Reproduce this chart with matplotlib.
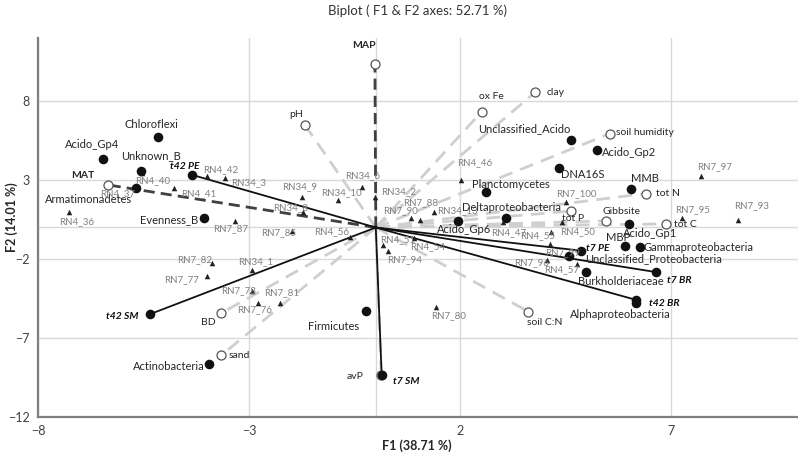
import matplotlib
matplotlib.use('Agg')
import matplotlib.pyplot as plt

plt.rcParams['font.family'] = ['Lato', 'DejaVu Sans']

# ---------------- data ----------------
species = ['Chloroflexi', 'Acido_Gp4', 'Unknown_B', 'Armatimonadetes', 'Evenness_B',
           'Unclassified_Acido', 'Acido_Gp2', 'DNA16S', 'MMB', 'Planctomycetes',
           'Deltaproteobacteria', 'Acido_Gp6', 'Acido_Gp1', 'MBP', 'Gammaproteobacteria',
           'Unclassified_Proteobacteria', 'Burkholderiaceae', 'Alphaproteobacteria',
           'Firmicutes', 'Actinobacteria']
species_x = [-5.16, -6.47, -5.56, -5.67, -4.06, 4.63, 5.24, 4.34, 6.05, 2.61,
             3.08, 1.95, 6.00, 5.91, 6.25, 4.58, 4.99, 6.16, -0.23, -3.96]
species_y = [5.70, 4.33, 3.59, 2.49, 0.63, 5.55, 4.90, 3.78, 2.45, 2.24,
             0.59, 0.42, 0.22, -1.20, -1.24, -1.79, -2.82, -4.78, -5.27, -8.63]

treatments = ['t42 PE', 't42 SM', 't7 SM', 't7 PE', 't7 BR', 't42 BR']
treat_x = [-4.36, -5.34, 0.14, 4.87, 6.63, 6.16]
treat_y = [3.34, -5.48, -9.37, -1.47, -2.82, -4.58]

env_vars = ['MAP', 'MAT', 'pH', 'ox Fe', 'clay', 'soil humidity', 'tot N', 'tot P',
            'Gibbsite', 'tot C', 'soil C:N', 'BD', 'sand', 'avP']
env_x = [-0.02, -6.35, -1.68, 2.51, 3.78, 5.55, 6.39, 4.63, 5.46, 6.88, 3.61, -3.66, -3.66, 0.13]
env_y = [10.36, 2.70, 6.50, 7.34, 8.57, 5.95, 2.15, 1.04, 0.42, 0.23, -5.32, -5.42, -8.10, -9.33]
env_strong = ['MAP', 'MAT']

samples = ['RN4_36', 'RN4_37', 'RN4_40', 'RN4_41', 'RN4_42', 'RN34_3', 'RN7_87', 'RN34_9',
           'RN34_10', 'RN34_6', 'RN34_2', 'RN34_8', 'RN7_85', 'RN4_56', 'RN7_90', 'RN7_88',
           'RN34_13', 'RN4_46', 'RN4_47', 'RN4_51', 'RN7_94', 'RN4_54', 'RN4_55', 'RN4_50',
           'RN7_100', 'RN7_99', 'RN7_96', 'RN4_57', 'RN7_97', 'RN7_95', 'RN7_93', 'RN34_1',
           'RN7_82', 'RN7_77', 'RN7_78', 'RN7_76', 'RN7_81', 'RN7_80']
sample_x = [-7.26, -6.34, -5.53, -4.77, -4.00, -3.58, -3.33, -1.75,
            -0.90, -0.32, -0.02, -1.72, -1.98, -0.61, 0.83, 1.38,
            1.05, 2.01, 3.02, 0.18, 0.30, 0.91, 4.16, 4.40,
            4.50, 4.12, 4.06, 4.77, 7.71, 7.25, 8.59, -2.92,
            -3.88, -4.00, -2.94, -2.78, -2.27, 1.42]
sample_y = [0.97, 2.64, 3.46, 2.49, 3.23, 3.16, 0.42, 1.92,
            1.71, 2.56, 1.92, 0.96, -0.19, -0.57, 0.57, 0.97,
            0.49, 3.02, 0.32, -1.08, -1.46, -0.67, -0.29, 0.32,
            1.63, -1.03, -2.04, -2.30, 3.27, 0.59, 0.49, -2.72,
            -2.25, -3.04, -3.99, -4.75, -4.75, -5.04]

x_ticks = [-8, -3, 2, 7]
y_ticks = [-12, -7, -2, 3, 8]
title = 'Biplot ( F1 & F2 axes: 52.71 %)'
xlabel = 'F1 (38.71 %)'
ylabel = 'F2 (14.01 %)'

# ---------------- label placement (pixel offsets, style only) ----------------
label_off = {
    'Chloroflexi': (-6, 13), 'Acido_Gp4': (-11, 15), 'Unknown_B': (10, 15),
    'Armatimonadetes': (-48, -11), 'Evenness_B': (-35, -2), 'Unclassified_Acido': (-47, 11),
    'Acido_Gp2': (32, -2), 'DNA16S': (24, -7), 'MMB': (14, 10), 'Planctomycetes': (25, 8),
    'Deltaproteobacteria': (6, 11), 'Acido_Gp6': (6, -9), 'Acido_Gp1': (21, -9),
    'MBP': (-7, 9), 'Gammaproteobacteria': (59, 0), 'Unclassified_Proteobacteria': (84, -3),
    'Burkholderiaceae': (34, -9), 'Alphaproteobacteria': (-16, -12), 'Firmicutes': (-33, -16),
    'Actinobacteria': (-40, -3),
    't42 PE': (-7, 8), 't42 SM': (-28, -2), 't7 SM': (25, -6), 't7 PE': (16, 2),
    't7 BR': (24, -8), 't42 BR': (28, -4),
    'MAP': (-11, 18), 'MAT': (-25, 9), 'pH': (-9, 10), 'ox Fe': (10, 15), 'clay': (20, 0),
    'soil humidity': (35, 1), 'tot N': (22, 0), 'tot P': (2, -7), 'Gibbsite': (15, 9),
    'tot C': (19, -1), 'soil C:N': (16, -11), 'BD': (-13, -9), 'sand': (18, 0), 'avP': (-26, -2),
    'RN4_36': (7, -9), 'RN4_37': (10, -8), 'RN4_40': (10, -8), 'RN4_41': (24, -5),
    'RN4_42': (14, 7), 'RN34_3': (24, -5), 'RN7_87': (-5, -8), 'RN34_9': (-2, 11),
    'RN34_10': (4, 8), 'RN34_6': (0, 11), 'RN34_2': (24, 6), 'RN34_8': (-12, 5),
    'RN7_85': (-14, -2), 'RN4_56': (-18, 5), 'RN7_90': (-10, 8), 'RN7_88': (-13, 10),
    'RN34_13': (37, 9), 'RN4_46': (14, 17), 'RN4_47': (5, -10), 'RN4_51': (14, 5),
    'RN7_94': (16, -9), 'RN4_54': (13, -9), 'RN4_55': (-14, -4), 'RN4_50': (16, -9),
    'RN7_100': (11, 8), 'RN7_99': (13, -9), 'RN7_96': (-16, -3), 'RN4_57': (-16, -6),
    'RN7_97': (13, 9), 'RN7_95': (11, 9), 'RN7_93': (13, 14), 'RN34_1': (3, 9),
    'RN7_82': (-17, 3), 'RN7_77': (-25, -4), 'RN7_78': (-13, 0), 'RN7_76': (-4, -7),
    'RN7_81': (2, 10), 'RN7_80': (13, -9),
}

W, H = 798, 455
fig = plt.figure(figsize=(W / 100, H / 100), dpi=100)
ax = fig.add_axes([38 / W, 38 / H, (W - 38) / W, 379 / H])
ax.set_xlim(-8, 10)
ax.set_ylim(-12, 12)
ax.set_xticks(x_ticks)
ax.set_yticks(y_ticks)
ax.grid(True, color='#d9d9d9', linewidth=1.0, zorder=0)
ax.axhline(0, color='#d9d9d9', linewidth=1.0, zorder=0)
ax.axvline(0, color='#d9d9d9', linewidth=1.0, zorder=0)
for s in ['top', 'right']:
    ax.spines[s].set_visible(False)
for s in ['left', 'bottom']:
    ax.spines[s].set_color('#7f7f7f')
    ax.spines[s].set_linewidth(1.6)
ax.tick_params(length=0, labelsize=9, colors='#404040', pad=6)
ax.set_axisbelow(True)

# vectors to environmental variables
for name, x, y in zip(env_vars, env_x, env_y):
    if name in env_strong:
        ax.plot([0, x], [0, y], color='#404040', lw=2.0, ls=(0, (4, 2.2)), zorder=3)
    else:
        ax.plot([0, x], [0, y], color='#cfcfcf', lw=2.0, ls=(0, (5, 3)), zorder=2)

# vectors to treatments
for x, y in zip(treat_x, treat_y):
    ax.plot([0, x], [0, y], color='#111111', lw=1.3, zorder=4)

# markers
ax.scatter(sample_x, sample_y, marker='^', s=16, color='#222222', zorder=5, linewidths=0)
ax.scatter(env_x, env_y, marker='o', s=42, facecolor='white', edgecolor='#555555',
           linewidths=0.9, zorder=6)
ax.scatter(species_x, species_y, marker='o', s=48, color='#111111', zorder=7, linewidths=0)
ax.scatter(treat_x, treat_y, marker='o', s=48, color='#111111', zorder=7, linewidths=0)

def lab(name, x, y, **kw):
    dx, dy = label_off.get(name, (0, 8))
    ax.annotate(name, (x, y), xytext=(dx, dy), textcoords='offset pixels',
                ha='center', va='center', zorder=8, **kw)

for n, x, y in zip(samples, sample_x, sample_y):
    lab(n, x, y, fontsize=7, color='#808080')
for n, x, y in zip(species, species_x, species_y):
    lab(n, x, y, fontsize=8, color='#262626')
for n, x, y in zip(env_vars, env_x, env_y):
    lab(n, x, y, fontsize=7.5, color='#262626',
        fontweight='bold' if n in env_strong else 'normal')
for n, x, y in zip(treatments, treat_x, treat_y):
    lab(n, x, y, fontsize=7.5, color='#111111', fontweight='bold', fontstyle='italic')

fig.text(418 / W, 1 - 11 / H, title, ha='center', va='center', fontsize=9.5, color='#333333')
fig.text(417 / W, 1 - 446 / H, xlabel, ha='center', va='center', fontsize=9,
         fontweight='bold', color='#262626')
fig.text(12 / W, 1 - 217 / H, ylabel, ha='center', va='center', fontsize=9,
         fontweight='bold', color='#262626', rotation=90)

fig.savefig('out.png', dpi=100)
